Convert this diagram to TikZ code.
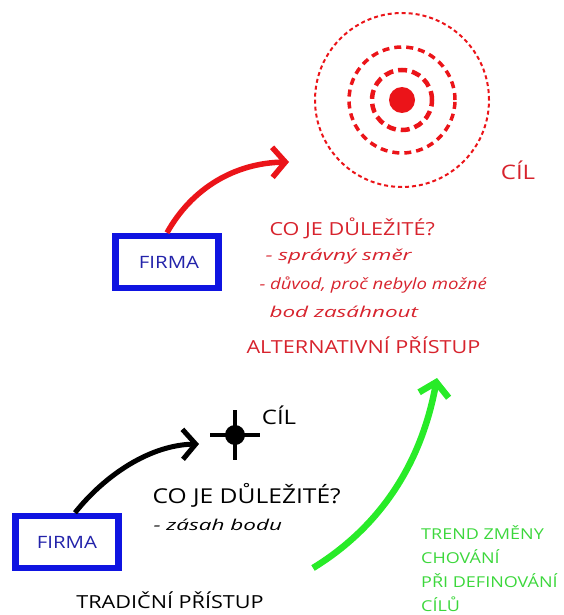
\documentclass[tikz,border=0pt]{standalone}
\usepackage{fontspec}
\setmainfont{Open Sans}
\newfontfamily\capsfont[FakeStretch=1.2]{Open Sans}
\newfontfamily\handfont[FakeStretch=1.5]{Open Sans}
\newfontfamily\narrowhand[FakeStretch=1.2]{Open Sans}
\usetikzlibrary{arrows.meta}
\definecolor{red}{RGB}{235,20,25}
\definecolor{textred}{RGB}{215,35,45}
\definecolor{blue}{RGB}{15,20,225}
\definecolor{firmablue}{RGB}{35,35,170}
\definecolor{green}{RGB}{40,235,40}
\definecolor{textgreen}{RGB}{60,215,60}

\begin{document}
\begin{tikzpicture}[x=1pt,y=-1pt,
  firmabox/.style={draw=blue,line width=6.5pt,minimum width=103pt,minimum height=52pt,text=firmablue,font=\capsfont\fontsize{17}{20}\selectfont},
  caps/.style={anchor=west,font=\capsfont\fontsize{18}{20}\selectfont},
  hand/.style={anchor=west,font=\handfont\itshape\fontsize{15}{20}\selectfont},
  barb/.style={-{Straight Barb[length=13pt,width=30pt]}}]
\useasboundingbox (0,0) rectangle (563,615);

% alternativni pristup
\coordinate (target) at (402,100);
\draw[red,line width=2pt,dash pattern=on 4pt off 3pt] (target) circle (87pt);
\draw[red,line width=3.5pt,dash pattern=on 7pt off 5pt] (target) circle (53pt);
\draw[red,line width=4.5pt,dash pattern=on 9pt off 5pt] (target) circle (30pt);
\fill[red] (target) circle (13pt);
\node[caps,anchor=center,text=textred,font=\capsfont\fontsize{20}{22}\selectfont] (cil1) at (518,170) {CÍL};

\node[firmabox] (firma1) at (167,262) {\hspace{4pt}FIRMA};
\coordinate (redtip) at (289,162);
\draw[red,line width=5.5pt,barb] (firma1.north) .. controls (192,188) and (235,163) .. (redtip);

\node[caps,text=textred] (dulezite1) at (266,228) {CO JE DŮLEŽITÉ?};
\node[hand,text=textred] (smer) at (262,257) {- správný směr};
\node[hand,text=textred,font=\narrowhand\itshape\fontsize{15.5}{20}\selectfont] (duvod) at (256,285) {- důvod, proč nebylo možné};
\node[hand,text=textred] (bod) at (266,312) {bod zasáhnout};
\node[caps,text=textred] (alt) at (243,345) {ALTERNATIVNÍ PŘÍSTUP};

% tradicni pristup
\coordinate (cil2) at (235,435);
\draw[line width=4.5pt] (cil2) ++(0,-25) -- ++(0,50);
\draw[line width=4.5pt] (cil2) ++(-25,0) -- ++(50,0);
\fill (cil2) circle (10pt);
\node[caps,anchor=center,font=\capsfont\fontsize{20}{22}\selectfont] (cil2text) at (279,415) {CÍL};

\node[firmabox] (firma2) at (67,542) {FIRMA};
\coordinate (blacktip) at (199,444);
\draw[line width=5pt,barb] ([xshift=8pt]firma2.north) .. controls (105,475) and (150,445) .. (blacktip);

\node[caps,font=\capsfont\fontsize{20.5}{22}\selectfont] (dulezite2) at (149,495) {CO JE DŮLEŽITÉ?};
\node[hand] (zasah) at (150,525) {- zásah bodu};
\node[caps,anchor=center] (trad) at (170,600) {TRADIČNÍ PŘÍSTUP};

% trend
\coordinate (trendstart) at (313,568);
\coordinate (trendtip) at (437,378);
\draw[green,line width=6.5pt,barb] (trendstart) .. controls (375,530) and (420,470) .. (trendtip);
\node[anchor=north west,align=left,inner sep=0pt,text=textgreen,font=\capsfont\fontsize{15}{24}\selectfont] (trend) at (421,525)
  {TREND ZMĚNY\\CHOVÁNÍ\\PŘI DEFINOVÁNÍ\\CÍLŮ};
\end{tikzpicture}
\end{document}
